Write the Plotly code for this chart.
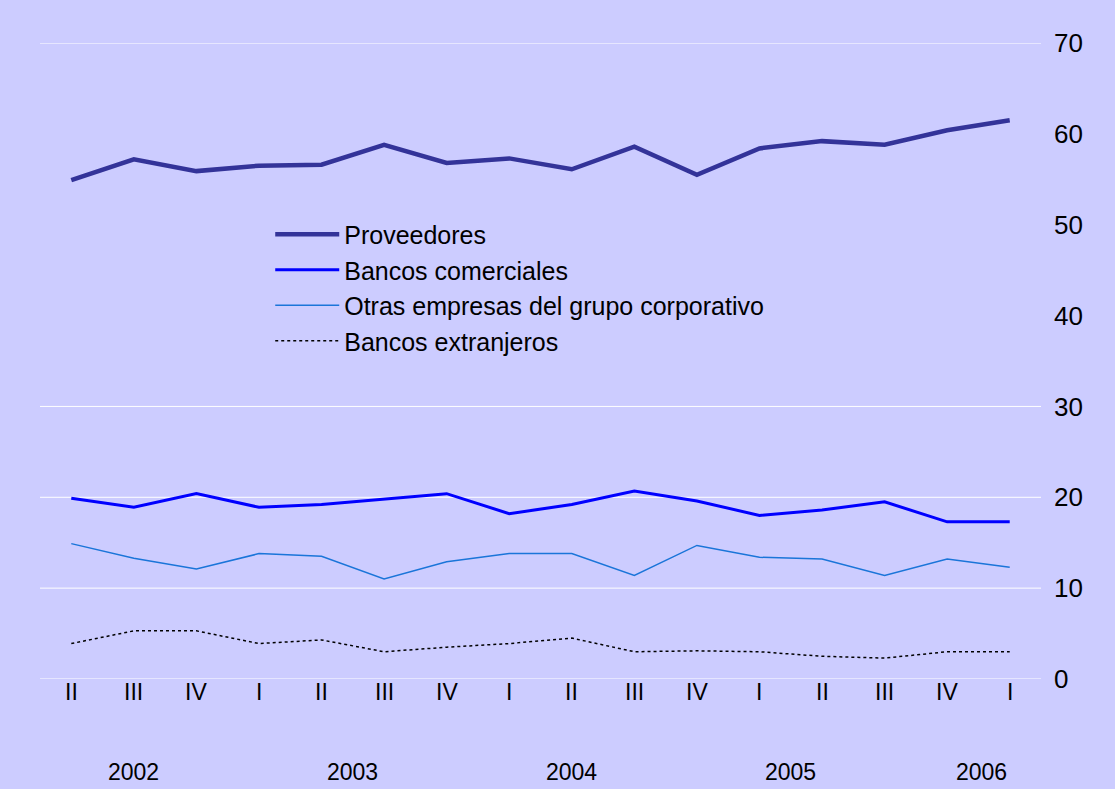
import plotly.graph_objects as go

quarters = ["II", "III", "IV", "I", "II", "III", "IV", "I", "II", "III", "IV", "I", "II", "III", "IV", "I"]
years = ["2002", "2003", "2004", "2005", "2006"]
year_pos = [1.0, 4.5, 8.0, 11.5, 14.55]

proveedores = [54.9, 57.2, 55.9, 56.5, 56.6, 58.8, 56.8, 57.3, 56.1, 58.6, 55.5, 58.4, 59.2, 58.8, 60.4, 61.5]
bancos_com = [19.9, 18.9, 20.4, 18.9, 19.2, 19.8, 20.4, 18.2, 19.2, 20.7, 19.6, 18.0, 18.6, 19.5, 17.3, 17.3]
otras = [14.9, 13.3, 12.1, 13.8, 13.5, 11.0, 12.9, 13.8, 13.8, 11.4, 14.7, 13.4, 13.2, 11.4, 13.2, 12.3]
bancos_ext = [3.9, 5.3, 5.3, 3.9, 4.3, 3.0, 3.5, 3.9, 4.5, 3.0, 3.1, 3.0, 2.5, 2.3, 3.0, 3.0]

x = list(range(len(quarters)))
font = "Liberation Sans, Arial, sans-serif"

fig = go.Figure()
fig.add_trace(go.Scatter(x=x, y=proveedores, name="Proveedores", mode="lines",
                         line=dict(color="#333399", width=4.5)))
fig.add_trace(go.Scatter(x=x, y=bancos_com, name="Bancos comerciales", mode="lines",
                         line=dict(color="#0000ff", width=3)))
fig.add_trace(go.Scatter(x=x, y=otras, name="Otras empresas del grupo corporativo", mode="lines",
                         line=dict(color="#1a75d9", width=1.5)))
fig.add_trace(go.Scatter(x=x, y=bancos_ext, name="Bancos extranjeros", mode="lines",
                         line=dict(color="black", width=1.5, dash="dot")))

# white gridlines only at some levels, as in the original
for g in [0, 10, 20, 30, 70]:
    fig.add_shape(type="line", xref="paper", x0=0, x1=1, yref="y", y0=g, y1=g,
                  line=dict(color="white", width=1), layer="below")

for i, q in enumerate(quarters):
    fig.add_annotation(x=i, y=0, yref="y", yshift=2, yanchor="top", text=q, showarrow=False,
                       font=dict(size=23, color="black", family=font))
for yr, p in zip(years, year_pos):
    fig.add_annotation(x=p, y=0, yref="y", yshift=-78, yanchor="top", text=yr, showarrow=False,
                       font=dict(size=23, color="black", family=font))

fig.update_layout(
    width=1115, height=789,
    paper_bgcolor="#ccccff", plot_bgcolor="#ccccff",
    margin=dict(l=40, r=74, t=43, b=110),
    font=dict(family=font, size=24, color="black"),
    showlegend=True,
    legend=dict(x=0.23, y=0.735, xanchor="left", yanchor="top", bgcolor="rgba(0,0,0,0)",
                font=dict(size=25), tracegroupgap=0, itemwidth=64),
    xaxis=dict(range=[-0.5, 15.5], showgrid=False, showticklabels=False, zeroline=False),
    yaxis=dict(range=[0, 70], side="right", tickvals=[0, 10, 20, 30, 40, 50, 60, 70],
               showgrid=False, zeroline=False, ticks="", ticklabelstandoff=12,
               tickfont=dict(size=26)),
)
fig.write_html("out.html", config={"displayModeBar": False},
               post_script="document.body.style.margin='0';")
